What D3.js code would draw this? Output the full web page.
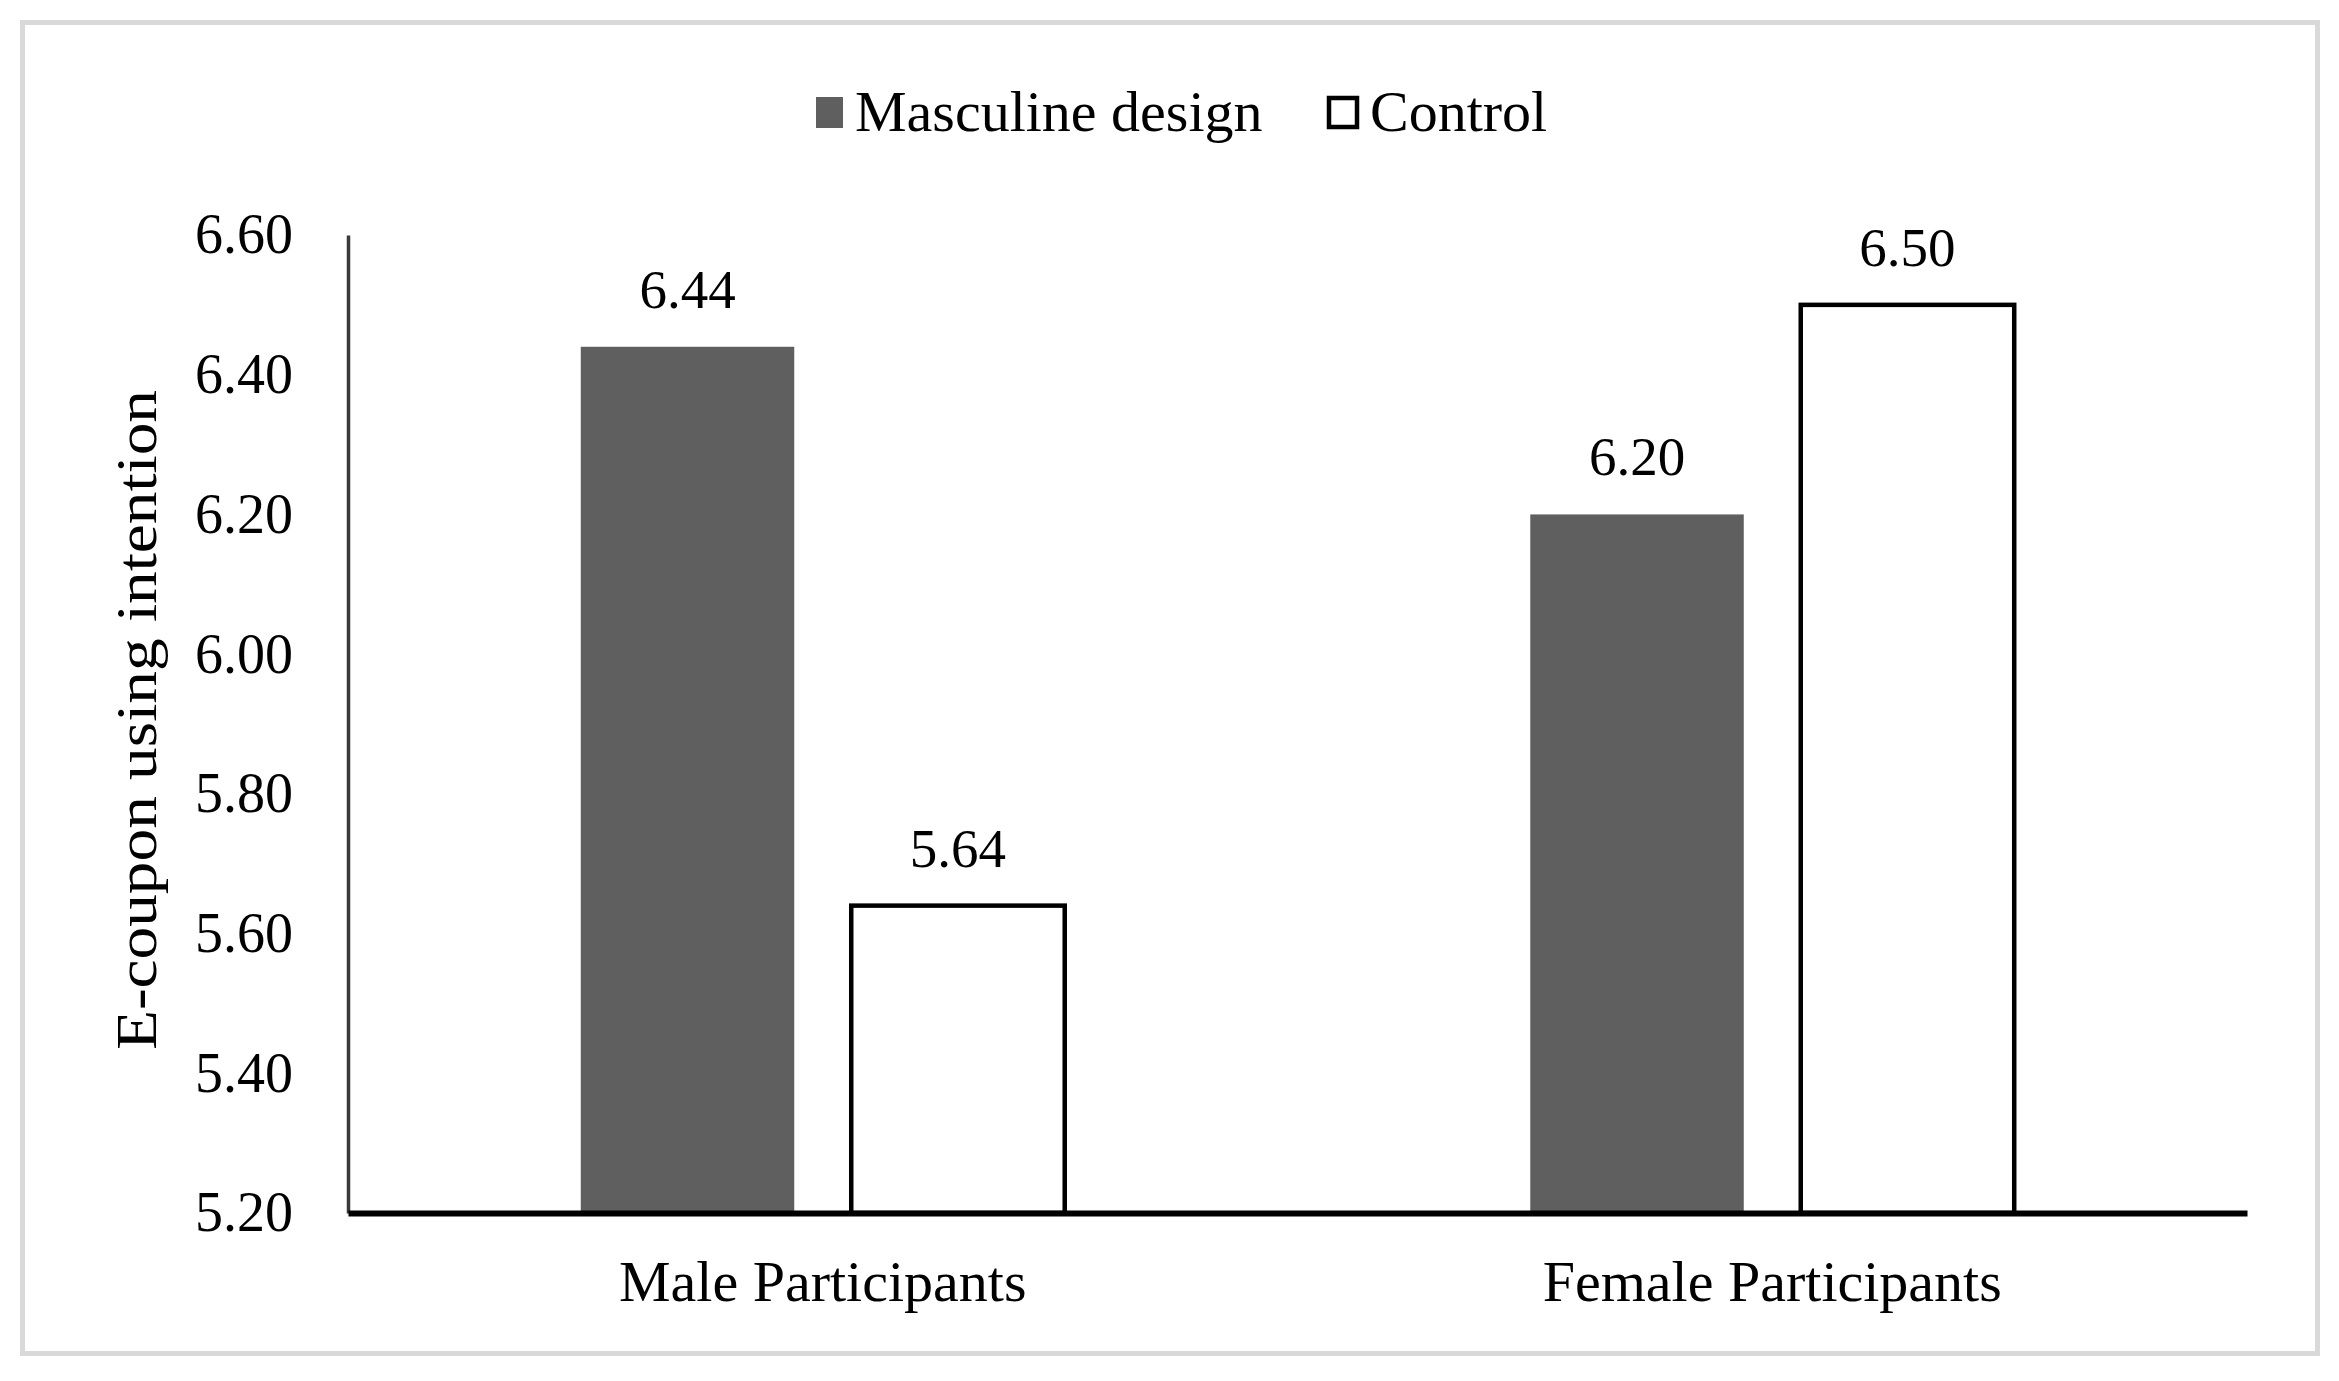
<!DOCTYPE html>
<html>
<head>
<meta charset="utf-8">
<script src="https://cdn.jsdelivr.net/npm/d3@7"></script>
<style>
  html, body { margin: 0; padding: 0; background: #fff; }
  svg { display: block; }
  text { font-family: "Liberation Serif", "Times New Roman", serif; fill: #000; }
</style>
</head>
<body>
<svg id="chart" width="2339" height="1381"></svg>
<script>
// ---- data ----
const categories = ["Male Participants", "Female Participants"];
const seriesNames = ["Masculine design", "Control"];
const masculineValues = [6.44, 6.20];
const controlValues = [5.64, 6.50];
const yTicks = [5.20, 5.40, 5.60, 5.80, 6.00, 6.20, 6.40, 6.60];
const yTitle = "E-coupon using intention";

const seriesValues = [masculineValues, controlValues];
const rows = [];
categories.forEach((c, ci) => {
  seriesNames.forEach((s, si) => rows.push({ cat: c, series: s, value: seriesValues[si][ci] }));
});

const svg = d3.select("#chart");
const W = 2339, H = 1381;
svg.append("rect").attr("width", W).attr("height", H).attr("fill", "#fff");

// outer frame
svg.append("rect")
  .attr("x", 22.5).attr("y", 22.5).attr("width", 2295).attr("height", 1331)
  .attr("fill", "none").attr("stroke", "#d9d9d9").attr("stroke-width", 5);

const plotLeft = 348, plotRight = 2247, plotTop = 235, plotBottom = 1213;

const y = d3.scaleLinear().domain([5.2, 6.6]).range([plotBottom, plotTop]);
const x0 = d3.scaleBand().domain(categories).range([plotLeft, plotRight])
  .paddingInner(0.4903).paddingOuter(0.4903 / 2);
const x1 = d3.scaleBand().domain(seriesNames).range([0, x0.bandwidth()])
  .paddingInner(0.2107).paddingOuter(0);

const fillColor = { "Masculine design": "#5f5f5f", "Control": "#ffffff" };
const strokeColor = { "Masculine design": "none", "Control": "#000" };

// bars
const bars = svg.append("g");
bars.selectAll("rect").data(rows).join("rect")
  .attr("x", d => x0(d.cat) + x1(d.series))
  .attr("y", d => y(d.value))
  .attr("width", x1.bandwidth())
  .attr("height", d => y(5.2) - y(d.value))
  .attr("fill", d => fillColor[d.series])
  .attr("stroke", d => strokeColor[d.series])
  .attr("stroke-width", 4.5);

// data labels
svg.append("g").selectAll("text").data(rows).join("text")
  .attr("x", d => x0(d.cat) + x1(d.series) + x1.bandwidth() / 2)
  .attr("y", d => y(d.value) - 39)
  .attr("text-anchor", "middle")
  .attr("font-size", 55)
  .text(d => d3.format(".2f")(d.value));

// y axis
const yAxis = svg.append("g").attr("transform", `translate(${plotLeft},0)`)
  .call(d3.axisLeft(y).tickValues(yTicks).tickFormat(d3.format(".2f"))
    .tickSizeInner(0).tickSizeOuter(0).tickPadding(55));
yAxis.select(".domain").attr("stroke", "#3a3a3a").attr("stroke-width", 3.5);
yAxis.selectAll(".tick line").remove();
yAxis.selectAll("text").attr("font-size", 56)
  .style("font-family", '"Liberation Serif", "Times New Roman", serif').attr("fill", "#000");

// x axis
const xAxis = svg.append("g").attr("transform", `translate(0,${plotBottom})`)
  .call(d3.axisBottom(x0).tickSizeInner(0).tickSizeOuter(0).tickPadding(47));
xAxis.select(".domain").attr("stroke", "#000").attr("stroke-width", 6);
xAxis.selectAll(".tick line").remove();
xAxis.selectAll("text").attr("font-size", 58)
  .style("font-family", '"Liberation Serif", "Times New Roman", serif').attr("fill", "#000");

// y title
svg.append("text")
  .attr("transform", "translate(156,720) rotate(-90)")
  .attr("text-anchor", "middle")
  .attr("font-size", 58)
  .attr("textLength", 660)
  .attr("lengthAdjust", "spacingAndGlyphs")
  .text(yTitle);

// legend
const legendItems = [
  { name: seriesNames[0], sx: 816, tx: 855 },
  { name: seriesNames[1], sx: 1327, tx: 1370 }
];
const lg = svg.append("g");
legendItems.forEach(it => {
  const isControl = it.name === "Control";
  lg.append("rect")
    .attr("x", isControl ? it.sx + 2 : it.sx)
    .attr("y", isControl ? 98 : 97)
    .attr("width", isControl ? 28 : 27)
    .attr("height", isControl ? 29 : 31)
    .attr("fill", fillColor[it.name])
    .attr("stroke", isControl ? "#000" : "none")
    .attr("stroke-width", 4.5);
  lg.append("text").attr("x", it.tx).attr("y", 131)
    .attr("font-size", 58).text(it.name);
});
</script>
</body>
</html>
